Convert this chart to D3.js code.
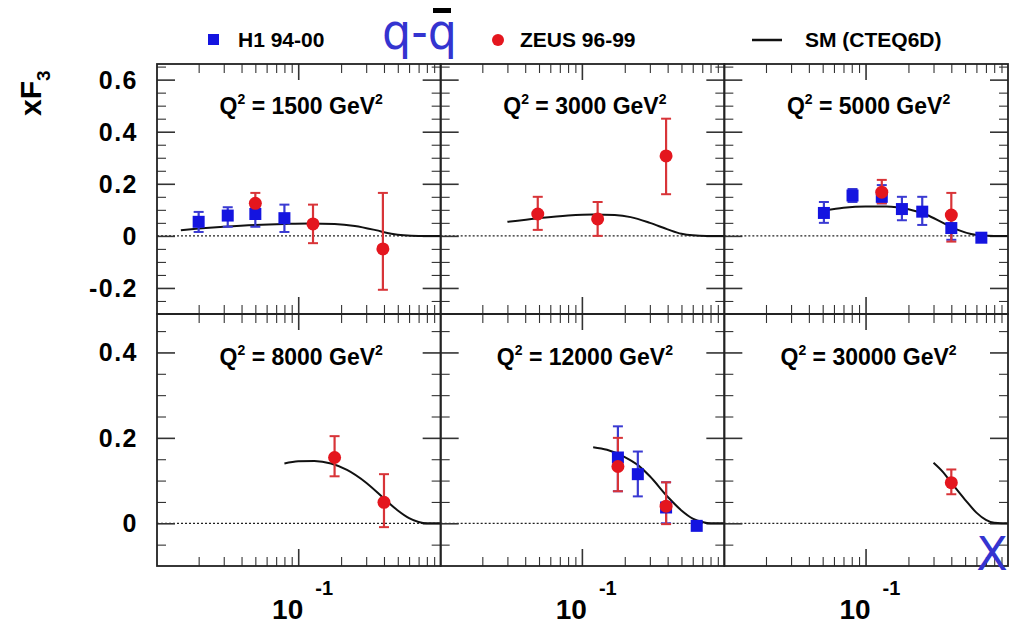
<!DOCTYPE html>
<html>
<head>
<meta charset="utf-8">
<script src="https://cdn.jsdelivr.net/npm/d3@7"></script>
<style>
  body { margin: 0; background: #fff; }
  svg text { font-family: "Liberation Sans", Arial, sans-serif; font-weight: bold; }
  .tick line { stroke: #333; }
</style>
</head>
<body>
<svg id="chart" width="1012" height="626"></svg>
<script>
// Q^2 bins, one panel each
var q2Values = [1500, 3000, 5000, 8000, 12000, 30000];

// H1 94-00 points: x, xF3, lower, upper
var h1_1500 = [[0.020, 0.054, 0.015, 0.092], [0.032, 0.078, 0.035, 0.110], [0.050, 0.084, 0.035, 0.110], [0.080, 0.068, 0.015, 0.120]];
var h1_3000 = [];
var h1_5000 = [[0.051, 0.088, 0.050, 0.130], [0.081, 0.155, 0.130, 0.180], [0.130, 0.150, 0.125, 0.195], [0.180, 0.103, 0.060, 0.150], [0.250, 0.093, 0.042, 0.150], [0.400, 0.030, -0.015, 0.073], [0.650, -0.007, -0.012, -0.002]];
var h1_8000 = [];
var h1_12000 = [[0.179, 0.154, 0.075, 0.227], [0.247, 0.115, 0.063, 0.168], [0.390, 0.037, 0.000, 0.096], [0.640, -0.006, -0.012, 0.000]];
var h1_30000 = [];

// ZEUS 96-99 points: x, xF3, lower, upper
var zeus_1500 = [[0.050, 0.125, 0.088, 0.165], [0.127, 0.046, -0.028, 0.120], [0.393, -0.050, -0.207, 0.165]];
var zeus_3000 = [[0.049, 0.084, 0.023, 0.150], [0.129, 0.065, 0.000, 0.130], [0.390, 0.307, 0.160, 0.450]];
var zeus_5000 = [[0.130, 0.168, 0.125, 0.215], [0.400, 0.080, -0.022, 0.165]];
var zeus_8000 = [[0.180, 0.154, 0.110, 0.204], [0.400, 0.049, -0.009, 0.115]];
var zeus_12000 = [[0.179, 0.133, 0.075, 0.200], [0.390, 0.040, -0.002, 0.096]];
var zeus_30000 = [[0.400, 0.095, 0.068, 0.126]];

// SM (CTEQ6D) curves: x, xF3
var sm_1500 = [[0.015, 0.022], [0.02, 0.028], [0.03, 0.035], [0.05, 0.042], [0.08, 0.046], [0.12, 0.048], [0.18, 0.046], [0.25, 0.038], [0.35, 0.022], [0.45, 0.008], [0.55, 0.002], [0.7, 0.0], [1.0, 0.0]];
var sm_3000 = [[0.03, 0.054], [0.05, 0.068], [0.08, 0.078], [0.12, 0.082], [0.17, 0.080], [0.22, 0.072], [0.3, 0.050], [0.4, 0.025], [0.5, 0.008], [0.6, 0.002], [0.75, 0.0], [1.0, 0.0]];
var sm_5000 = [[0.052, 0.098], [0.07, 0.108], [0.1, 0.113], [0.14, 0.113], [0.2, 0.102], [0.27, 0.080], [0.35, 0.050], [0.45, 0.022], [0.55, 0.007], [0.65, 0.001], [0.8, 0.0], [1.0, 0.0]];
var sm_8000 = [[0.08, 0.140], [0.1, 0.145], [0.13, 0.146], [0.17, 0.140], [0.22, 0.125], [0.3, 0.095], [0.4, 0.058], [0.5, 0.030], [0.6, 0.012], [0.7, 0.003], [0.8, 0.0], [1.0, 0.0]];
var sm_12000 = [[0.12, 0.178], [0.15, 0.172], [0.2, 0.155], [0.25, 0.135], [0.3, 0.110], [0.4, 0.062], [0.5, 0.030], [0.6, 0.011], [0.7, 0.003], [0.8, 0.0], [1.0, 0.0]];
var sm_30000 = [[0.3, 0.142], [0.35, 0.120], [0.4, 0.095], [0.5, 0.055], [0.6, 0.025], [0.7, 0.008], [0.8, 0.001], [0.9, 0.0], [1.0, 0.0]];

var h1Sets = [h1_1500, h1_3000, h1_5000, h1_8000, h1_12000, h1_30000];
var zeusSets = [zeus_1500, zeus_3000, zeus_5000, zeus_8000, zeus_12000, zeus_30000];
var smSets = [sm_1500, sm_3000, sm_5000, sm_8000, sm_12000, sm_30000];

// axis settings
var xDomain = [0.0102, 1];
var xMajorTicks = [0.1];
var xMinorTicks = [0.02, 0.03, 0.04, 0.05, 0.06, 0.07, 0.08, 0.09, 0.2, 0.3, 0.4, 0.5, 0.6, 0.7, 0.8, 0.9];
var yDomainTop = [-0.3, 0.66];
var yDomainBottom = [-0.1, 0.49];
var yMajorTop = [-0.2, 0, 0.2, 0.4, 0.6];
var yMinorTop = [-0.25, -0.15, -0.1, -0.05, 0.05, 0.1, 0.15, 0.25, 0.3, 0.35, 0.45, 0.5, 0.55, 0.65];
var yMajorBottom = [0, 0.2, 0.4];
var yMinorBottom = [-0.05, 0.05, 0.1, 0.15, 0.25, 0.3, 0.35, 0.45];

var svg = d3.select("#chart");

var left = 157, right = 1008,
    rowEdges = [64, 314, 566],
    pw = (right - left) / 3;

var blue = "#1414e0", red = "#e4161e",
    blueErr = "#3a3ad2", redErr = "#d83438";

// inward ticks on one side of a panel
function tickSide(g, axisFn, scale, values, size, tx, ty) {
    var a = g.append("g")
        .attr("transform", "translate(" + tx + "," + ty + ")")
        .call(axisFn(scale).tickValues(values).tickSize(-size).tickFormat(""));
    a.select(".domain").remove();
    a.selectAll(".tick line").attr("stroke", "#333").attr("stroke-width", size > 10 ? 1.6 : 1.1);
}

q2Values.forEach(function(q2, i) {
    var col = i % 3, row = Math.floor(i / 3);
    var x0 = left + col * pw, x1 = x0 + pw;
    var y0 = rowEdges[row], y1 = rowEdges[row + 1];

    var x = d3.scaleLog().domain(xDomain).range([x0, x1]);
    var y = d3.scaleLinear().domain(row == 0 ? yDomainTop : yDomainBottom).range([y1, y0]);
    var yMajor = row == 0 ? yMajorTop : yMajorBottom,
        yMinor = row == 0 ? yMinorTop : yMinorBottom;

    var g = svg.append("g");

    // zero line
    g.append("line")
        .attr("x1", x0).attr("x2", x1)
        .attr("y1", y(0)).attr("y2", y(0))
        .attr("stroke", "#222").attr("stroke-width", 1.2)
        .attr("stroke-dasharray", "2,2");

    // ticks on all four sides
    tickSide(g, d3.axisBottom, x, xMajorTicks, 17, 0, y1);
    tickSide(g, d3.axisBottom, x, xMinorTicks, 9, 0, y1);
    tickSide(g, d3.axisTop, x, xMajorTicks, 16, 0, y0);
    tickSide(g, d3.axisTop, x, xMinorTicks, 9, 0, y0);
    tickSide(g, d3.axisLeft, y, yMajor, 18, x0, 0);
    tickSide(g, d3.axisLeft, y, yMinor, 9, x0, 0);
    tickSide(g, d3.axisRight, y, yMajor, 18, x1, 0);
    tickSide(g, d3.axisRight, y, yMinor, 9, x1, 0);

    // y tick labels on the left column
    if (col == 0) {
        yMajor.forEach(function(d) {
            g.append("text")
                .attr("x", 138).attr("y", y(d) + 9)
                .attr("text-anchor", "end")
                .style("font-size", "25px")
                .style("letter-spacing", "1.5px")
                .text(String(d));
        });
    }

    // x tick label on bottom row
    if (row == 1) {
        g.append("text")
            .attr("x", x(0.1) + 5).attr("y", 619)
            .attr("text-anchor", "end")
            .style("font-size", "28px")
            .text("10");
        g.append("text")
            .attr("x", x(0.1) + 17).attr("y", 595)
            .style("font-size", "20px")
            .text("-1");
    }

    // SM curve
    var line = d3.line()
        .x(function(d) { return x(d[0]); })
        .y(function(d) { return y(d[1]); })
        .curve(d3.curveMonotoneX);
    g.append("path")
        .datum(smSets[i])
        .attr("d", line)
        .attr("fill", "none")
        .attr("stroke", "#111")
        .attr("stroke-width", 2);

    // error bars
    function errorBars(data, color) {
        var eb = g.selectAll(null).data(data).enter().append("g");
        eb.append("line")
            .attr("x1", function(d) { return x(d[0]); }).attr("x2", function(d) { return x(d[0]); })
            .attr("y1", function(d) { return y(d[2]); }).attr("y2", function(d) { return y(d[3]); })
            .attr("stroke", color).attr("stroke-width", 2.2);
        [2, 3].forEach(function(k) {
            eb.append("line")
                .attr("x1", function(d) { return x(d[0]) - 5; }).attr("x2", function(d) { return x(d[0]) + 5; })
                .attr("y1", function(d) { return y(d[k]); }).attr("y2", function(d) { return y(d[k]); })
                .attr("stroke", color).attr("stroke-width", 2);
        });
    }
    errorBars(h1Sets[i], blueErr);
    errorBars(zeusSets[i], redErr);

    g.selectAll(".h1").data(h1Sets[i]).enter().append("rect")
        .attr("x", function(d) { return x(d[0]) - 6; })
        .attr("y", function(d) { return y(d[1]) - 6; })
        .attr("width", 12).attr("height", 12)
        .attr("fill", blue);

    g.selectAll(".zeus").data(zeusSets[i]).enter().append("circle")
        .attr("cx", function(d) { return x(d[0]); })
        .attr("cy", function(d) { return y(d[1]); })
        .attr("r", 6.5)
        .attr("fill", red);

    // Q^2 label
    var lab = g.append("text")
        .attr("x", x(0.1) + 3)
        .attr("y", row == 0 ? 114 : 365)
        .attr("text-anchor", "middle")
        .style("font-size", "23px");
    lab.append("tspan").text("Q");
    lab.append("tspan").attr("dy", -10).style("font-size", "14px").text("2");
    lab.append("tspan").attr("dy", 10).text(" = " + q2 + " GeV");
    lab.append("tspan").attr("dy", -10).style("font-size", "14px").text("2");

    // frame
    g.append("rect")
        .attr("x", x0).attr("y", y0)
        .attr("width", pw).attr("height", y1 - y0)
        .attr("fill", "none")
        .attr("stroke", "#222")
        .attr("stroke-width", 1.8);
});

// y axis title
var yt = svg.append("text")
    .attr("transform", "translate(41,116) rotate(-90)")
    .style("font-size", "30px");
yt.append("tspan").text("xF");
yt.append("tspan").attr("dy", 9).style("font-size", "19px").text("3");

// legend
var legend = svg.append("g");
legend.append("rect").attr("x", 208).attr("y", 34).attr("width", 11).attr("height", 11).attr("fill", blue);
legend.append("text").attr("x", 238).attr("y", 47).style("font-size", "21px").text("H1 94-00");
legend.append("circle").attr("cx", 498).attr("cy", 40).attr("r", 6).attr("fill", red);
legend.append("text").attr("x", 520).attr("y", 47).style("font-size", "21px").text("ZEUS 96-99");
legend.append("line").attr("x1", 752).attr("x2", 782).attr("y1", 40).attr("y2", 40).attr("stroke", "#111").attr("stroke-width", 2.5);
legend.append("text").attr("x", 805).attr("y", 47).style("font-size", "21px").text("SM (CTEQ6D)");

// blue annotations
svg.append("text")
    .attr("x", 382).attr("y", 49)
    .attr("textLength", 75).attr("lengthAdjust", "spacingAndGlyphs")
    .style("font-family", "'DejaVu Sans', sans-serif")
    .style("font-weight", "normal")
    .style("font-size", "50px")
    .attr("fill", "#3434d0")
    .text("q-q");
svg.append("rect").attr("x", 433).attr("y", 8).attr("width", 18).attr("height", 5).attr("fill", "#000");
svg.append("text")
    .attr("x", 992).attr("y", 570)
    .attr("text-anchor", "middle")
    .style("font-family", "'DejaVu Sans', sans-serif")
    .style("font-weight", "normal")
    .style("font-size", "46px")
    .attr("fill", "#3434d0")
    .text("X");
</script>
</body>
</html>
